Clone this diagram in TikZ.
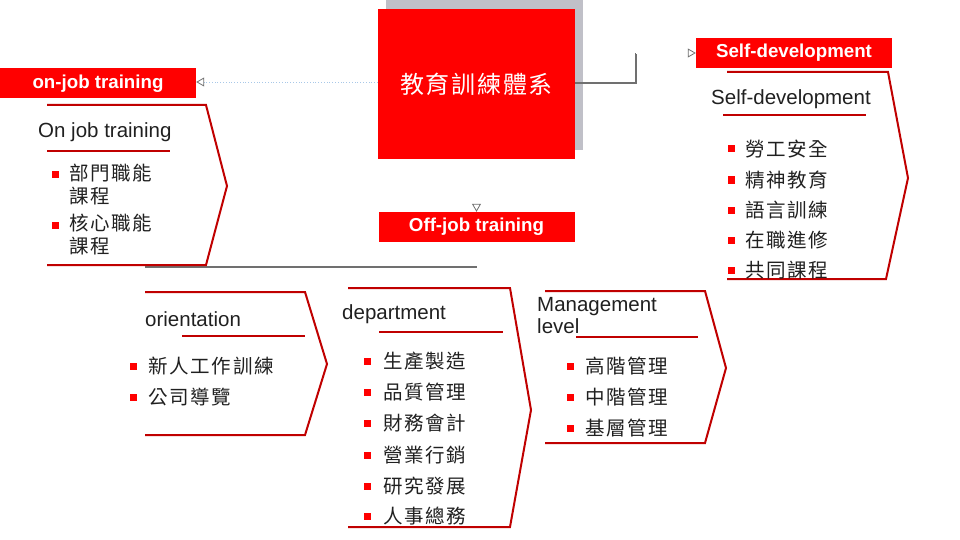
\documentclass[tikz,border=0pt]{standalone}
\usepackage{fontspec}
\setmainfont{Liberation Sans}
\newfontfamily\cjk[LetterSpace=9]{Noto Sans CJK TC}
\newfontfamily\cjkmain[LetterSpace=7]{Noto Sans CJK TC}
\usetikzlibrary{arrows.meta}
\definecolor{boxred}{HTML}{FF0000}
\definecolor{chevred}{HTML}{C00000}
\definecolor{linegray}{HTML}{707070}
\definecolor{shadowgray}{HTML}{C0C0C8}
\definecolor{dotblue}{HTML}{A8C8E8}
\definecolor{titlegray}{HTML}{202020}
\tikzset{
  mainbox/.style={fill=boxred, minimum width=197pt, minimum height=150pt, inner sep=0pt,
    text=white, font=\cjkmain\fontsize{24}{27}\selectfont},
  labelbox/.style={fill=boxred, minimum width=196pt, minimum height=30pt, inner sep=0pt,
    text=white, font=\bfseries\fontsize{18.7}{21}\selectfont},
  chev/.style={draw=chevred, line width=2pt, line join=miter},
  uline/.style={draw=chevred, line width=2pt},
  title/.style={anchor=west, inner sep=0pt, text=titlegray, font=\fontsize{20.5}{22}\selectfont},
  bsq/.style={fill=boxred, minimum size=7pt, inner sep=0pt},
  item/.style={anchor=west, inner sep=0pt, text=titlegray, font=\cjk\fontsize{19.5}{23}\selectfont},
  conn/.style={draw=linegray, line width=2pt},
  dotconn/.style={draw=dotblue, line width=0.8pt, dotted, -{Triangle[open,length=8pt,width=9pt,color=linegray]}},
}
\begin{document}
\begin{tikzpicture}[x=1pt, y=-1pt]
\useasboundingbox (0,0) rectangle (960,540);
% main box with shadow
\fill[shadowgray] (386,0) rectangle (583,150);
\node[mainbox] (main) at (476.5,84) {教育訓練體系};
% labels
\node[labelbox] (onjob) at (98,83.5) {on-job training};
\node[labelbox] (selfdev) at (794,53) {Self-development};
\node[labelbox] (offjob) at (476.5,227) {Off-job training};
% connectors
\draw[dotconn] (main.west |- 0,82) -- (onjob.east |- 0,82);
\coordinate (bend) at (636,53);
\draw[conn] (main.east |- 0,83) -| (bend);
\draw[dotconn, draw=white] (bend) -- (selfdev.west);
\draw[dotconn, draw=white] (main.south) -- (offjob.north);
\coordinate (ofl) at (145,267);
\coordinate (ofr) at (477,267);
\draw[conn, line width=1.6pt] (ofl) -- (ofr);

% ---- On-job chevron
\draw[chev] (47,105) -- (206,105) -- (227,186) -- (206,265) -- (47,265);
\node[title] (ojt) at (38,132) {On job training};
\draw[uline] (47,151) -- (170,151);
\node[bsq] (ob1) at (55,175) {};
\node[item, anchor=north west, align=left] (oi1) at (69,164) {部門職能\\課程};
\node[bsq] (ob2) at (55,225) {};
\node[item, anchor=north west, align=left] (oi2) at (69,214) {核心職能\\課程};

% ---- Self-development chevron
\draw[chev] (727,72) -- (888,72) -- (908,178) -- (886,279) -- (727,279);
\node[title] (sdt) at (711,99) {Self-development};
\draw[uline] (723,115) -- (866,115);
\foreach \y/\t [count=\i] in {149/勞工安全,180/精神教育,210/語言訓練,240/在職進修,270/共同課程}{
  \node[bsq] (sb\i) at (731,\y) {};
  \node[item] (si\i) at (745,\y) {\t};
}

% ---- orientation chevron
\draw[chev] (145,292) -- (305,292) -- (327,364) -- (305,435) -- (145,435);
\node[title] (ort) at (145,319) {orientation};
\draw[uline] (182,336) -- (305,336);
\foreach \y/\t [count=\i] in {366/新人工作訓練,397/公司導覽}{
  \node[bsq] (rb\i) at (133,\y) {};
  \node[item] (ri\i) at (148,\y) {\t};
}

% ---- department chevron
\draw[chev] (348,288) -- (510,288) -- (531,410) -- (510,527) -- (348,527);
\node[title] (dpt) at (342,314) {department};
\draw[uline] (379,332) -- (503,332);
\foreach \y/\t [count=\i] in {361/生產製造,392/品質管理,423/財務會計,455/營業行銷,486/研究發展,516/人事總務}{
  \node[bsq] (db\i) at (367,\y) {};
  \node[item] (di\i) at (383,\y) {\t};
}

% ---- Management chevron
\draw[chev] (545,291) -- (705,291) -- (726,368) -- (705,443) -- (545,443);
\node[title, anchor=north west, align=left] (mgt) at (537,297) {Management\\level};
\draw[uline] (576,337) -- (698,337);
\foreach \y/\t [count=\i] in {366/高階管理,397/中階管理,428/基層管理}{
  \node[bsq] (mb\i) at (570,\y) {};
  \node[item] (mi\i) at (585,\y) {\t};
}
\end{tikzpicture}
\end{document}
